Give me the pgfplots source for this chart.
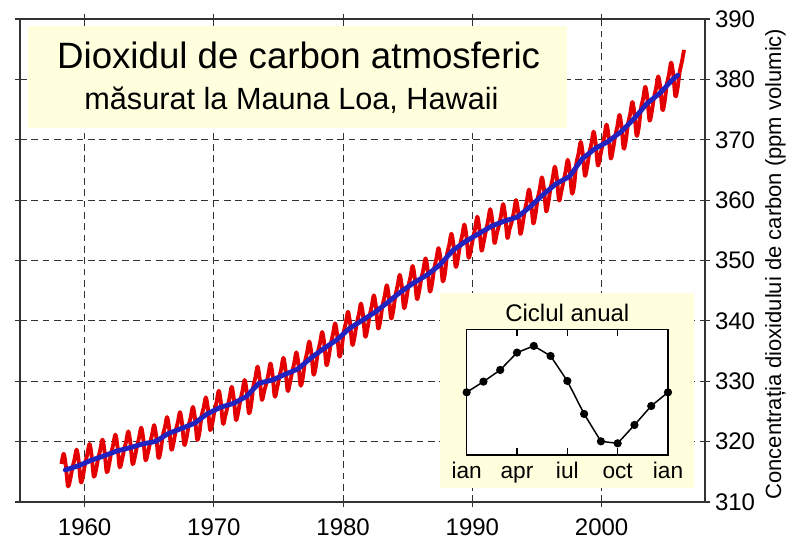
\documentclass[border=0pt]{standalone}
\usepackage{fontspec}
\setmainfont{Liberation Sans}
\usepackage{pgfplots}
\pgfplotsset{compat=1.18}
\definecolor{co2red}{RGB}{228,0,0}
\definecolor{co2blue}{RGB}{34,34,190}
\definecolor{boxyellow}{RGB}{255,255,221}
\definecolor{gridgray}{RGB}{51,51,51}
\begin{document}
\begin{tikzpicture}[x=1pt,y=1pt]
\path[use as bounding box] (-15,-36) rectangle (585,376.5);
\begin{axis}[
  scale only axis, width=513.75pt, height=362.25pt,
  at={(0pt,0pt)}, anchor=south west,
  xmin=1955, xmax=2008, ymin=310, ymax=390,
  xtick={1960,1970,1980,1990,2000}, ytick={310,320,...,390},
  yticklabel pos=right,
  /pgf/number format/1000 sep={},
  /pgf/number format/assume math mode=true,
  ticklabel style={font=\fontsize{18}{21}\selectfont},
  xticklabel style={yshift=-5pt},
  tick align=center, major tick length=8pt,
  tick style={gridgray, line width=0.9pt},
  grid=major,
  major grid style={gridgray, line width=0.9pt, dash pattern=on 5pt off 3.5pt},
  axis line style={gridgray, line width=1.1pt},
]
\addplot[co2red, line width=2.9pt, smooth, line join=round] coordinates {
(1958.21,316.3) (1958.38,318.0) (1958.54,316.1) (1958.71,312.6) (1958.88,313.7)
(1959.04,315.52) (1959.21,316.98) (1959.38,318.68) (1959.54,316.78) (1959.71,313.28) (1959.88,314.38)
(1960.04,316.45) (1960.21,317.91) (1960.38,319.61) (1960.54,317.71) (1960.71,314.21) (1960.88,315.31)
(1961.04,317.18) (1961.21,318.64) (1961.38,320.34) (1961.54,318.44) (1961.71,314.94) (1961.88,316.04)
(1962.04,317.99) (1962.21,319.45) (1962.38,321.15) (1962.54,319.25) (1962.71,315.75) (1962.88,316.85)
(1963.04,318.53) (1963.21,319.99) (1963.38,321.69) (1963.54,319.79) (1963.71,316.29) (1963.88,317.39)
(1964.04,319.16) (1964.21,320.62) (1964.38,322.32) (1964.54,320.42) (1964.71,316.92) (1964.88,318.02)
(1965.04,319.58) (1965.21,321.04) (1965.38,322.74) (1965.54,320.84) (1965.71,317.34) (1965.88,318.44)
(1966.04,320.91) (1966.21,322.37) (1966.38,324.07) (1966.54,322.17) (1966.71,318.67) (1966.88,319.77)
(1967.04,321.72) (1967.21,323.18) (1967.38,324.88) (1967.54,322.98) (1967.71,319.48) (1967.88,320.58)
(1968.04,322.59) (1968.21,324.05) (1968.38,325.75) (1968.54,323.85) (1968.71,320.35) (1968.88,321.45)
(1969.04,324.16) (1969.21,325.62) (1969.38,327.32) (1969.54,325.42) (1969.71,321.92) (1969.88,323.02)
(1970.04,324.98) (1970.21,326.58) (1970.38,328.43) (1970.54,326.53) (1970.71,322.93) (1970.88,324.23)
(1971.04,325.62) (1971.21,327.22) (1971.38,329.07) (1971.54,327.17) (1971.71,323.57) (1971.88,324.87)
(1972.04,326.76) (1972.21,328.36) (1972.38,330.21) (1972.54,328.31) (1972.71,324.71) (1972.88,326.01)
(1973.04,328.98) (1973.21,330.58) (1973.38,332.43) (1973.54,330.53) (1973.71,326.93) (1973.88,328.23)
(1974.04,329.49) (1974.21,331.09) (1974.38,332.94) (1974.54,331.04) (1974.71,327.44) (1974.88,328.74)
(1975.04,330.43) (1975.21,332.03) (1975.38,333.88) (1975.54,331.98) (1975.71,328.38) (1975.88,329.68)
(1976.04,331.33) (1976.21,332.93) (1976.38,334.78) (1976.54,332.88) (1976.71,329.28) (1976.88,330.58)
(1977.04,333.14) (1977.21,334.74) (1977.38,336.59) (1977.54,334.69) (1977.71,331.09) (1977.88,332.39)
(1978.04,334.71) (1978.21,336.31) (1978.38,338.16) (1978.54,336.26) (1978.71,332.66) (1978.88,333.96)
(1979.04,336.14) (1979.21,337.74) (1979.38,339.59) (1979.54,337.69) (1979.71,334.09) (1979.88,335.39)
(1980.04,338.06) (1980.21,339.66) (1980.38,341.51) (1980.54,339.61) (1980.71,336.01) (1980.88,337.31)
(1981.04,339.42) (1981.21,341.02) (1981.38,342.87) (1981.54,340.97) (1981.71,337.37) (1981.88,338.67)
(1982.04,340.78) (1982.21,342.38) (1982.38,344.23) (1982.54,342.33) (1982.71,338.73) (1982.88,340.03)
(1983.04,342.45) (1983.21,344.05) (1983.38,345.90) (1983.54,344.00) (1983.71,340.40) (1983.88,341.70)
(1984.04,344.17) (1984.21,345.77) (1984.38,347.62) (1984.54,345.72) (1984.71,342.12) (1984.88,343.42)
(1985.04,345.65) (1985.21,347.25) (1985.38,349.10) (1985.54,347.20) (1985.71,343.60) (1985.88,344.90)
(1986.04,346.91) (1986.21,348.51) (1986.38,350.36) (1986.54,348.46) (1986.71,344.86) (1986.88,346.16)
(1987.04,348.61) (1987.21,350.21) (1987.38,352.06) (1987.54,350.16) (1987.71,346.56) (1987.88,347.86)
(1988.04,350.99) (1988.21,352.59) (1988.38,354.44) (1988.54,352.54) (1988.71,348.94) (1988.88,350.24)
(1989.04,352.50) (1989.21,354.10) (1989.38,355.95) (1989.54,354.05) (1989.71,350.45) (1989.88,351.75)
(1990.04,353.60) (1990.21,355.25) (1990.38,357.25) (1990.54,355.35) (1990.71,351.65) (1990.88,353.10)
(1991.04,354.85) (1991.21,356.50) (1991.38,358.50) (1991.54,356.60) (1991.71,352.90) (1991.88,354.35)
(1992.04,355.69) (1992.21,357.34) (1992.38,359.34) (1992.54,357.44) (1992.71,353.74) (1992.88,355.19)
(1993.04,356.36) (1993.21,358.01) (1993.38,360.01) (1993.54,358.11) (1993.71,354.41) (1993.88,355.86)
(1994.04,358.11) (1994.21,359.76) (1994.38,361.76) (1994.54,359.86) (1994.71,356.16) (1994.88,357.61)
(1995.04,360.12) (1995.21,361.77) (1995.38,363.77) (1995.54,361.87) (1995.71,358.17) (1995.88,359.62)
(1996.04,361.89) (1996.21,363.54) (1996.38,365.54) (1996.54,363.64) (1996.71,359.94) (1996.88,361.39)
(1997.04,363.03) (1997.21,364.68) (1997.38,366.68) (1997.54,364.78) (1997.71,361.08) (1997.88,362.53)
(1998.04,365.99) (1998.21,367.64) (1998.38,369.64) (1998.54,367.74) (1998.71,364.04) (1998.88,365.49)
(1999.04,367.69) (1999.21,369.34) (1999.38,371.34) (1999.54,369.44) (1999.71,365.74) (1999.88,367.19)
(2000.04,368.86) (2000.21,370.51) (2000.38,372.51) (2000.54,370.61) (2000.71,366.91) (2000.88,368.36)
(2001.04,370.47) (2001.21,372.12) (2001.38,374.12) (2001.54,372.22) (2001.71,368.52) (2001.88,369.97)
(2002.04,372.60) (2002.21,374.25) (2002.38,376.25) (2002.54,374.35) (2002.71,370.65) (2002.88,372.10)
(2003.04,375.13) (2003.21,376.78) (2003.38,378.78) (2003.54,376.88) (2003.71,373.18) (2003.88,374.63)
(2004.04,376.85) (2004.21,378.50) (2004.38,380.50) (2004.54,378.60) (2004.71,374.90) (2004.88,376.35)
(2005.04,379.13) (2005.21,380.78) (2005.38,382.78) (2005.54,380.88) (2005.71,377.18) (2005.88,378.63)
(2006.04,381.24) (2006.21,382.89) (2006.38,384.89)
};
\addplot[co2blue, line width=3.6pt, line join=round, line cap=round] coordinates {
(1958.5,315.3) (1959.5,315.98) (1960.5,316.91) (1961.5,317.64) (1962.5,318.45)
(1963.5,318.99) (1964.5,319.62) (1965.5,320.04) (1966.5,321.37) (1967.5,322.18)
(1968.5,323.05) (1969.5,324.62) (1970.5,325.68) (1971.5,326.32) (1972.5,327.46)
(1973.5,329.68) (1974.5,330.19) (1975.5,331.13) (1976.5,332.03) (1977.5,333.84)
(1978.5,335.41) (1979.5,336.84) (1980.5,338.76) (1981.5,340.12) (1982.5,341.48)
(1983.5,343.15) (1984.5,344.87) (1985.5,346.35) (1986.5,347.61) (1987.5,349.31)
(1988.5,351.69) (1989.5,353.20) (1990.5,354.45) (1991.5,355.70) (1992.5,356.54)
(1993.5,357.21) (1994.5,358.96) (1995.5,360.97) (1996.5,362.74) (1997.5,363.88)
(1998.5,366.84) (1999.5,368.54) (2000.5,369.71) (2001.5,371.32) (2002.5,373.45)
(2003.5,375.98) (2004.5,377.70) (2005.5,379.98) (2005.9,380.7)
};
\end{axis}
% title box
\fill[boxyellow] (6pt,280.5pt) rectangle (410.25pt,357.2pt);
\node[anchor=base, font=\fontsize{27.5}{30}\selectfont] at (209pt,324.75pt) {Dioxidul de carbon atmosferic};
\node[anchor=base, font=\fontsize{23}{26}\selectfont] at (203.6pt,294pt) {măsurat la Mauna Loa, Hawaii};
% inset box
\fill[boxyellow] (315pt,10.5pt) rectangle (505.5pt,156.75pt);
\node[rotate=90, font=\fontsize{16.5}{20}\selectfont] at (566.6pt,178.5pt) {Concentrația dioxidului de carbon (ppm volumic)};
\begin{axis}[
  scale only axis, width=151pt, height=94.3pt,
  at={(335pt,35.25pt)}, anchor=south west,
  xmin=0, xmax=12, ymin=0, ymax=37.7,
  xtick={0,3,6,9,12}, xticklabels={ian,apr,iul,oct,ian},
  ytick=\empty,
  ticklabel style={font=\fontsize{17}{19}\selectfont},
  xticklabel style={anchor=base, yshift=-17.25pt},
  tick align=inside, major tick length=5pt,
  tick style={black, line width=0.9pt},
  axis line style={black, line width=0.9pt},
  axis background/.style={fill=white},
  every axis title shift=0pt,
  title={Ciclul anual},
  title style={font=\fontsize{18}{21}\selectfont, at={(0.5,1)}, anchor=base, yshift=5.7pt},
]
\addplot[black, line width=1.1pt, mark=*, mark size=2.5pt] coordinates {
(0,18.8) (1,22.0) (2,25.5) (3,30.7) (4,32.7) (5,29.7) (6,22.2)
(7,12.3) (8,4.1) (9,3.5) (10,9.0) (11,14.7) (12,18.8)
};
\end{axis}
\end{tikzpicture}
\end{document}
